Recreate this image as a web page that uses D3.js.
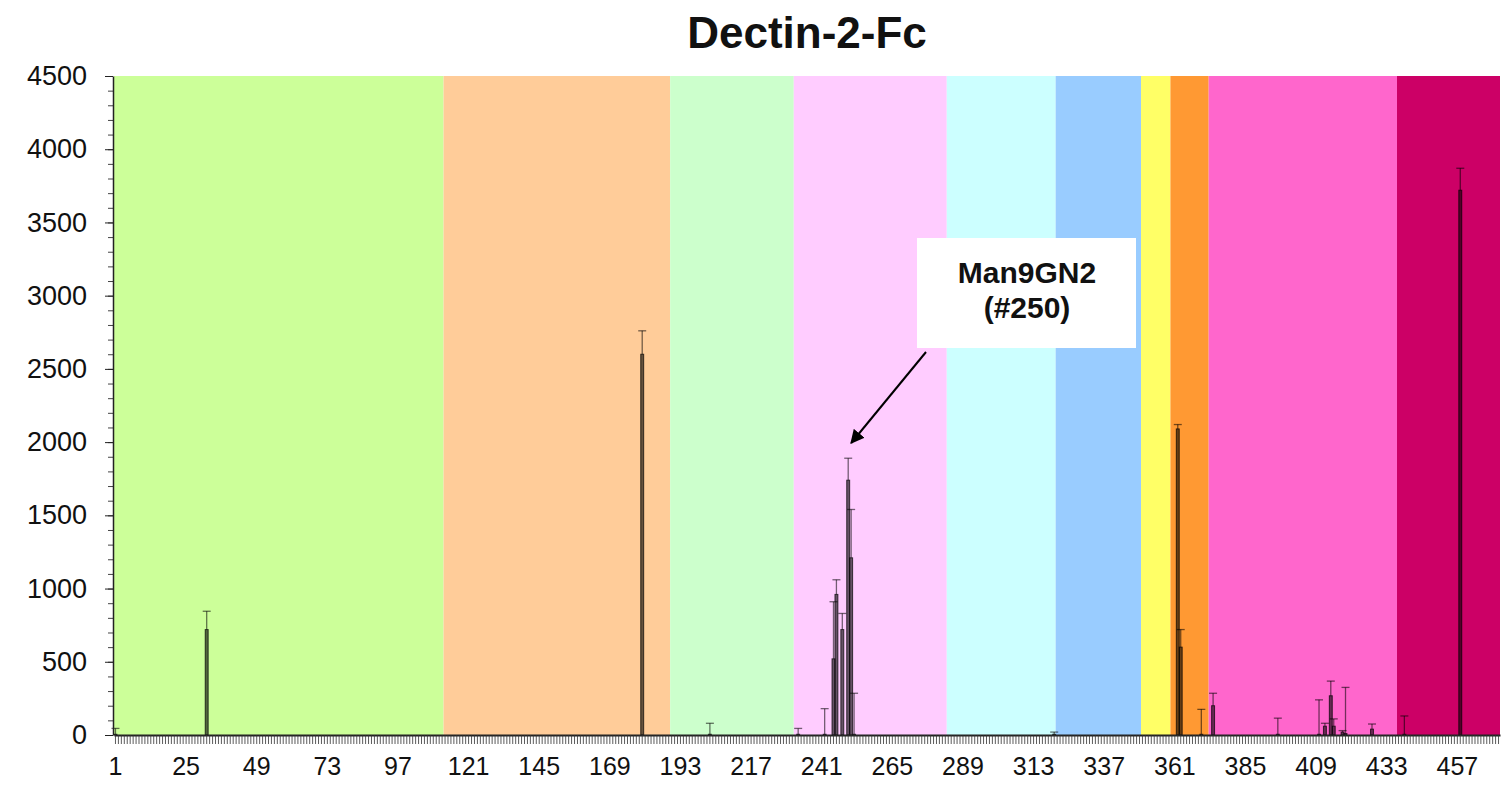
<!DOCTYPE html>
<html>
<head>
<meta charset="utf-8">
<script src="https://cdn.jsdelivr.net/npm/d3@7"></script>
<style>
  body { margin: 0; background: #fff; }
  svg { font-family: "Liberation Sans", Arial, sans-serif; }
</style>
</head>
<body>
<svg width="1501" height="785"></svg>
<script>
// glycan numbers on the array
var glycanCount = 471;
var xTickLabels = [1, 25, 49, 73, 97, 121, 145, 169, 193, 217, 241, 265, 289, 313, 337, 361, 385, 409, 433, 457];
var yTickLabels = [0, 500, 1000, 1500, 2000, 2500, 3000, 3500, 4000, 4500];

// coloured groups of glycans (first glycan of each group)
var groupStarts = [1, 113, 190, 232, 284, 321, 350, 360, 373, 437];
var groupColors = ["#ccff99", "#ffcc99", "#ccffcc", "#ffccff", "#ccffff", "#99ccff", "#ffff66", "#ff9933", "#ff66cc", "#cc0066"];

// binding signal (RFU) and error
var glycanIds = [1, 32, 180, 203, 233, 242, 245, 246, 248, 250, 251, 252, 320, 362, 363, 370, 374, 396, 410, 412, 414, 415, 418, 419, 428, 439, 458];
var rfu       = [5, 720, 2600, 5, 5, 5, 520, 960, 720, 1740, 1210, 5, 5, 2090, 600, 5, 200, 5, 5, 60, 268, 60, 20, 10, 40, 5, 3720];
var rfuError  = [40, 125, 160, 75, 40, 175, 390, 100, 110, 150, 330, 280, 15, 30, 120, 170, 85, 110, 235, 20, 100, 50, 10, 315, 35, 125, 150];

var svg = d3.select("svg");
var plotLeft = 114, plotRight = 1500, plotTop = 76, plotBottom = 735;

var x = d3.scaleBand()
    .domain(d3.range(1, glycanCount + 1))
    .range([plotLeft, plotRight])
    .padding(0);

var y = d3.scaleLinear()
    .domain([0, 4500])
    .range([plotBottom, plotTop]);

// background bands
var groups = groupStarts.map(function(s, i) {
    var end = i < groupStarts.length - 1 ? groupStarts[i + 1] - 1 : glycanCount;
    return { start: s, end: end, color: groupColors[i] };
});

svg.append("g").selectAll("rect")
    .data(groups)
    .enter().append("rect")
        .attr("x", function(d) { return x(d.start); })
        .attr("width", function(d) { return x(d.end) + x.bandwidth() - x(d.start); })
        .attr("y", plotTop)
        .attr("height", plotBottom - plotTop)
        .style("fill", function(d) { return d.color; });

var bars = glycanIds.map(function(id, i) {
    return { id: id, value: rfu[i], err: rfuError[i] };
});

// error bars
var eb = svg.append("g")
    .style("stroke", "#000")
    .style("stroke-opacity", 0.55)
    .style("stroke-width", 1.3);

eb.selectAll("line.v")
    .data(bars)
    .enter().append("line")
        .attr("class", "v")
        .attr("x1", function(d) { return x(d.id) + x.bandwidth() / 2; })
        .attr("x2", function(d) { return x(d.id) + x.bandwidth() / 2; })
        .attr("y1", function(d) { return y(d.value); })
        .attr("y2", function(d) { return y(d.value + d.err); });

eb.selectAll("line.cap")
    .data(bars)
    .enter().append("line")
        .attr("class", "cap")
        .attr("x1", function(d) { return x(d.id) + x.bandwidth() / 2 - 4; })
        .attr("x2", function(d) { return x(d.id) + x.bandwidth() / 2 + 4; })
        .attr("y1", function(d) { return y(d.value + d.err); })
        .attr("y2", function(d) { return y(d.value + d.err); });

// bars
svg.append("g").selectAll("rect")
    .data(bars)
    .enter().append("rect")
        .attr("x", function(d) { return x(d.id); })
        .attr("width", x.bandwidth())
        .attr("y", function(d) { return y(d.value); })
        .attr("height", function(d) { return plotBottom - y(d.value); })
        .style("fill", "#000")
        .style("fill-opacity", 0.6)
        .style("stroke", "#000")
        .style("stroke-opacity", 0.7)
        .style("stroke-width", 1);

// y axis
var yMinor = svg.append("g")
    .attr("transform", "translate(" + (plotLeft - 1) + ",0)")
    .call(d3.axisLeft(y).tickValues(d3.range(0, 4501, 100)).tickSize(5).tickFormat(""));
yMinor.select(".domain").remove();
yMinor.selectAll("line").style("stroke", "#444");

var yAxis = svg.append("g")
    .attr("transform", "translate(" + (plotLeft - 1) + ",0)")
    .call(d3.axisLeft(y).tickValues(yTickLabels).tickFormat(d3.format("d"))
        .tickSize(8).tickPadding(18).tickSizeOuter(0));
yAxis.selectAll("text").style("font-size", "27px").style("fill", "#111");
yAxis.selectAll("line").style("stroke", "#222");
yAxis.select(".domain").style("stroke", "#222").style("stroke-width", 1.5);

// x axis
var xMinor = svg.append("g")
    .attr("transform", "translate(0," + plotBottom + ")")
    .call(d3.axisBottom(x).tickSize(9).tickFormat("").tickSizeOuter(0));
xMinor.selectAll("line").style("stroke", "#333").style("stroke-opacity", 0.8);
xMinor.select(".domain").style("stroke", "#222").style("stroke-width", 2);

var xAxis = svg.append("g")
    .attr("transform", "translate(0," + plotBottom + ")")
    .call(d3.axisBottom(x).tickValues(xTickLabels).tickSize(0).tickPadding(22));
xAxis.select(".domain").remove();
xAxis.selectAll("text").style("font-size", "25px").style("fill", "#111");

// title
svg.append("text")
    .attr("x", (plotLeft + plotRight) / 2)
    .attr("y", 48)
    .attr("text-anchor", "middle")
    .style("font-size", "44px")
    .style("font-weight", "bold")
    .style("fill", "#111")
    .text("Dectin-2-Fc");

// callout
var defs = svg.append("defs");
defs.append("marker")
    .attr("id", "arrow")
    .attr("viewBox", "0 0 10 10")
    .attr("refX", 9)
    .attr("refY", 5)
    .attr("markerWidth", 7)
    .attr("markerHeight", 7)
    .attr("orient", "auto")
    .append("path")
        .attr("d", "M0,0L10,5L0,10z")
        .style("fill", "#000");

svg.append("rect")
    .attr("x", 917)
    .attr("y", 238)
    .attr("width", 219)
    .attr("height", 110)
    .style("fill", "#fff");

svg.append("text")
    .attr("x", 1027)
    .attr("y", 283)
    .attr("text-anchor", "middle")
    .style("font-size", "30px")
    .style("font-weight", "bold")
    .style("fill", "#111")
    .text("Man9GN2");

svg.append("text")
    .attr("x", 1027)
    .attr("y", 318)
    .attr("text-anchor", "middle")
    .style("font-size", "30px")
    .style("font-weight", "bold")
    .style("fill", "#111")
    .text("(#250)");

svg.append("line")
    .attr("x1", 926)
    .attr("y1", 352)
    .attr("x2", x(250) + x.bandwidth() / 2 + 3)
    .attr("y2", 443)
    .style("stroke", "#000")
    .style("stroke-width", 2)
    .attr("marker-end", "url(#arrow)");
</script>
</body>
</html>
